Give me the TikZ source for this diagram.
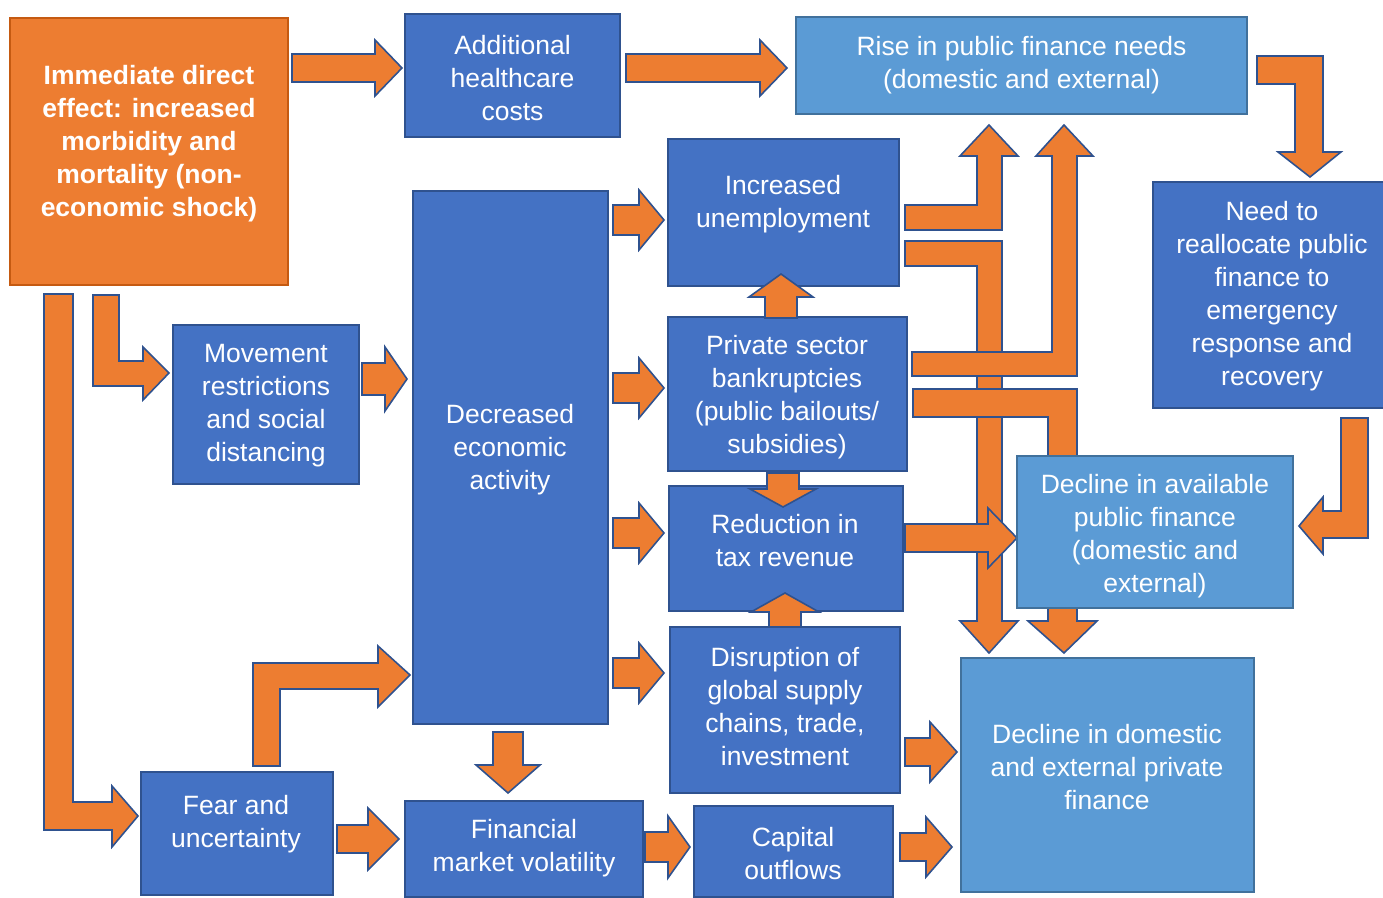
\documentclass[tikz,border=0pt]{standalone}
\usepackage{fontspec}
\setmainfont{Liberation Sans}
\definecolor{dblue}{HTML}{4472C4}
\definecolor{dbord}{HTML}{2F528F}
\definecolor{lblue}{HTML}{5B9BD5}
\definecolor{lbord}{HTML}{41719C}
\definecolor{orng}{HTML}{ED7D31}
\definecolor{obord}{HTML}{C55A11}
\newcommand\mkbox[9]{% name, style, x1,y1,x2,y2, tx, ty, text
  \node[#2, minimum width={(#5-#3)*0.5pt}, minimum height={(#6-#4)*0.5pt}] (#1) at ({(#3+#5)/2},{(#4+#6)/2}) {};
  \node[txt] (#1-t) at (#7,{#8+3}) {#9};}
\newcommand\RA[6]{% x1, xtip, yc, h, H, L
  \draw[blk] (#1,{#3-#4}) -- ({#2-#6},{#3-#4}) -- ({#2-#6},{#3-#5}) -- (#2,#3) -- ({#2-#6},{#3+#5}) -- ({#2-#6},{#3+#4}) -- (#1,{#3+#4}) -- cycle;}
\newcommand\VA[6]{% xc, ystart, ytip, h, H, L (negative for up)
  \draw[blk] ({#1-#4},#2) -- ({#1-#4},{#3-(#6)}) -- ({#1-#5},{#3-(#6)}) -- (#1,#3) -- ({#1+#5},{#3-(#6)}) -- ({#1+#4},{#3-(#6)}) -- ({#1+#4},#2) -- cycle;}
\begin{document}
\begin{tikzpicture}[x=0.5pt,y=-0.5pt,
  dbox/.style={draw=dbord, fill=dblue, line width=1.2pt, inner sep=0pt, outer sep=0pt},
  lbox/.style={draw=lbord, fill=lblue, line width=1.2pt, inner sep=0pt, outer sep=0pt},
  obox/.style={draw=obord, fill=orng, line width=1.2pt, inner sep=0pt, outer sep=0pt},
  txt/.style={text=white, align=center, inner sep=0pt, font=\fontsize{13.25}{16.5}\selectfont},
  blk/.style={fill=orng, draw=dbord, line width=0.8pt, line join=miter}]
\useasboundingbox (0,0) rectangle (1383,898);

% ---- long bent block arrows (behind the boxes) ----
% Immediate -> Fear and uncertainty
\draw[blk] (44,294) -- (73,294) -- (73,802) -- (112,802) -- (112,786) -- (138,816) -- (112,847) -- (112,830) -- (44,830) -- cycle;
% Immediate -> Movement restrictions
\draw[blk] (93,295) -- (119,295) -- (119,361) -- (143,361) -- (143,347) -- (169,373) -- (143,400) -- (143,386) -- (93,386) -- cycle;
% Fear -> Decreased economic activity
\draw[blk] (253,766) -- (253,663) -- (378,663) -- (378,646) -- (410,675) -- (378,707) -- (378,689) -- (280,689) -- (280,766) -- cycle;
% Unemployment -> Decline in domestic and external private finance
\draw[blk] (905,241) -- (1002,241) -- (1002,621) -- (1018,621) -- (989,653) -- (960,621) -- (977,621) -- (977,266) -- (905,266) -- cycle;
% Unemployment -> Rise in public finance needs
\draw[blk] (905,205) -- (977,205) -- (977,156) -- (960,156) -- (989,125) -- (1018,156) -- (1002,156) -- (1002,230) -- (905,230) -- cycle;
% Bankruptcies -> Rise in public finance needs
\draw[blk] (912,352) -- (1052,352) -- (1052,156) -- (1036,156) -- (1064,125) -- (1093,156) -- (1077,156) -- (1077,376) -- (912,376) -- cycle;
% Bankruptcies -> Decline in domestic and external private finance
\draw[blk] (913,389) -- (1077,389) -- (1077,621) -- (1097,621) -- (1064,653) -- (1028,621) -- (1048,621) -- (1048,417) -- (913,417) -- cycle;
% Rise -> Need to reallocate
\draw[blk] (1257,56) -- (1323,56) -- (1323,152) -- (1341,152) -- (1310,177) -- (1278,152) -- (1295,152) -- (1295,84) -- (1257,84) -- cycle;
% Need -> Decline in available public finance
\draw[blk] (1341,418) -- (1368,418) -- (1368,538) -- (1323,538) -- (1323,554) -- (1299,526) -- (1323,497) -- (1323,511) -- (1341,511) -- cycle;

% ---- straight block arrows ----
\RA{292}{402}{68}{14}{28}{27}
\RA{626}{787}{68}{14}{28}{27}
\RA{362}{407}{379}{16}{32}{22}
\RA{613}{664}{220}{15}{30}{25}
\RA{613}{664}{388}{15}{30}{25}
\RA{613}{664}{533}{15}{30}{25}
\RA{613}{664}{673}{15}{30}{25}
\RA{337}{399}{839}{14}{31}{31}
\RA{645}{690}{847}{15}{31}{22}
\RA{900}{952}{847}{14}{30}{26}
\RA{905}{957}{752}{14}{30}{27}
\RA{905}{1017}{538}{14}{30}{29}

% ---- boxes ----
\mkbox{imm}{obox}{10}{18}{288}{285}{149}{140.5}{\bfseries Immediate direct\\\bfseries effect: increased\\\bfseries morbidity and\\\bfseries mortality (non-\\\bfseries economic shock)}
\mkbox{add}{dbox}{405}{14}{620}{137}{512.5}{75}{Additional\\healthcare\\costs}
\mkbox{rise}{lbox}{796}{17}{1247}{114}{1021.5}{62}{Rise in public finance needs\\(domestic and external)}
\mkbox{unemp}{dbox}{668}{139}{899}{286}{783}{201.5}{Increased\\unemployment}
\mkbox{need}{dbox}{1153}{182}{1386}{408}{1272}{293}{Need to\\reallocate public\\finance to\\emergency\\response and\\recovery}
\mkbox{mov}{dbox}{173}{325}{359}{484}{266}{402.5}{Movement\\restrictions\\and social\\distancing}
\mkbox{dec}{dbox}{413}{191}{608}{724}{510}{447}{Decreased\\economic\\activity}
\mkbox{priv}{dbox}{668}{317}{907}{471}{787}{394.5}{Private sector\\bankruptcies\\(public bailouts/\\subsidies)}
\mkbox{red}{dbox}{669}{486}{903}{611}{785}{537.5}{Reduction in\\tax revenue}
\mkbox{avail}{lbox}{1017}{456}{1293}{608}{1155}{533}{Decline in available\\public finance\\(domestic and\\external)}
\mkbox{disr}{dbox}{670}{627}{900}{793}{785}{703.5}{Disruption of\\global supply\\chains, trade,\\investment}
\mkbox{dom}{lbox}{961}{658}{1254}{892}{1107}{764}{Decline in domestic\\and external private\\finance}
\mkbox{fear}{dbox}{141}{772}{333}{895}{236}{821.5}{Fear and\\uncertainty}
\mkbox{fin}{dbox}{405}{801}{643}{897}{524}{845.5}{Financial\\market volatility}
\mkbox{cap}{dbox}{694}{806}{893}{897}{793}{850.5}{Capital\\outflows}

% ---- short vertical block arrows (over the boxes) ----
\VA{508}{732}{793}{15}{32}{28}
\VA{783}{473}{507}{16}{33}{18}
\VA{781}{318}{274}{16}{32}{-23}
\VA{785}{627}{593}{16}{34}{-19}
\end{tikzpicture}
\end{document}
